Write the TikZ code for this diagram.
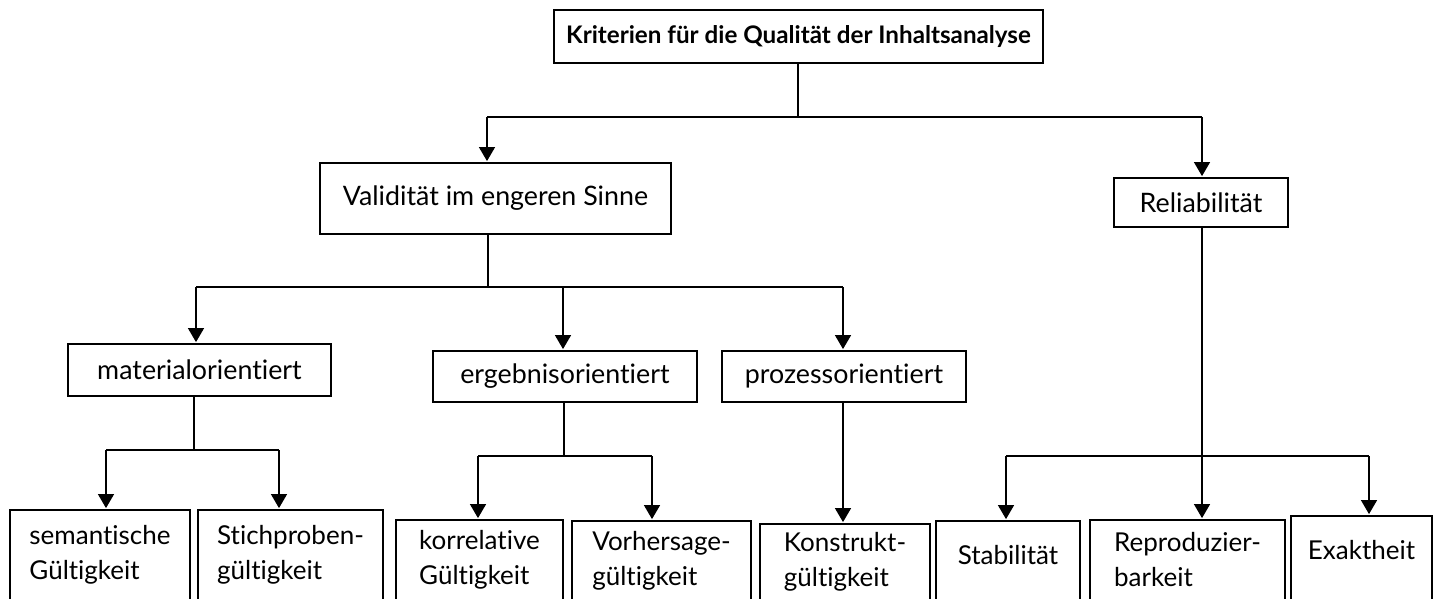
\documentclass[tikz,border=0pt]{standalone}
\usepackage{fontspec}
\setmainfont{Lato}[Ligatures={NoCommon}]
\usetikzlibrary{arrows.meta}
\begin{document}
\begin{tikzpicture}[x=1pt,y=-1pt,
  bx/.style={draw, line width=1.8pt, inner sep=0pt, align=center},
  mid/.style={font=\fontsize{26.8}{32}\selectfont},
  bxl/.style={draw, line width=1.8pt, inner sep=0pt, align=left,
     font=\fontsize{26}{35}\selectfont},
  ln/.style={line width=1.3pt},
  arr/.style={line width=1.3pt, -{Triangle[length=14pt,width=16pt]}, shorten >=1pt}]
\useasboundingbox (0,0) rectangle (1437,599);
\clip (0,0) rectangle (1437,599);
% boxes
\node[bx, minimum width=489, minimum height=53, font=\bfseries\fontsize{24.2}{29}\selectfont] (top) at (798.5,36.5) {Kriterien für die Qualität der Inhaltsanalyse};
\node[bx, mid, minimum width=351, minimum height=71] (valid) at (495.5,198.5) {Validität im engeren Sinne};
\node[bx, mid, minimum width=174, minimum height=49] (reli) at (1201,202.5) {Reliabilität};
\node[bx, mid, minimum width=263, minimum height=52] (mat) at (199.5,370) {materialorientiert};
\node[bx, mid, minimum width=264, minimum height=51] (erg) at (565,376.5) {ergebnisorientiert};
\node[bx, mid, minimum width=244, minimum height=51] (proz) at (844,376.5) {prozessorientiert};
\node[bxl, minimum width=180, minimum height=90] (sem) at (100,555) {semantische\\Gültigkeit};
\node[bxl, minimum width=185, minimum height=90] (stich) at (290.5,555) {Stichproben-\\gültigkeit};
\node[bxl, minimum width=167, minimum height=80] (korr) at (479.5,560) {korrelative\\Gültigkeit};
\node[bxl, minimum width=179, minimum height=79] (vorh) at (661.5,560.5) {Vorhersage-\\gültigkeit};
\node[bxl, minimum width=170, minimum height=76] (kons) at (845,562) {Konstrukt-\\gültigkeit};
\node[bxl, minimum width=144, minimum height=79, text depth=12pt] (stab) at (1008,560.5) {Stabilität};
\node[bxl, minimum width=195, minimum height=80] (repr) at (1187.5,560) {Reproduzier-\\barkeit};
\node[bxl, minimum width=141, minimum height=84, text depth=16pt] (exak) at (1361.5,558) {Exaktheit};
% junction coordinates
\coordinate (t0) at (798,117);
\coordinate (tL) at (487,117);
\coordinate (tR) at (1202,117);
\coordinate (v0) at (488,287);
\coordinate (vL) at (196,287);
\coordinate (vM) at (563,287);
\coordinate (vR) at (843,287);
\coordinate (m0) at (194,450);
\coordinate (mL) at (106,450);
\coordinate (mR) at (279,450);
\coordinate (e0) at (564,456);
\coordinate (eL) at (478,456);
\coordinate (eR) at (652,456);
\coordinate (r0) at (1202,456);
\coordinate (rL) at (1006,456);
\coordinate (rR) at (1369,456);
% connectors
\draw[ln] (t0 |- top.south) -- (t0);
\draw[ln] (tL) -- (tR);
\draw[arr] (tL) -- (tL |- valid.north);
\draw[arr] (tR) -- (tR |- reli.north);
\draw[ln] (v0 |- valid.south) -- (v0);
\draw[ln] (vL) -- (vR);
\draw[arr] (vL) -- (vL |- mat.north);
\draw[arr] (vM) -- (vM |- erg.north);
\draw[arr] (vR) -- (vR |- proz.north);
\draw[ln] (m0 |- mat.south) -- (m0);
\draw[ln] (mL) -- (mR);
\draw[arr] (mL) -- (mL |- sem.north);
\draw[arr] (mR) -- (mR |- stich.north);
\draw[ln] (e0 |- erg.south) -- (e0);
\draw[ln] (eL) -- (eR);
\draw[arr] (eL) -- (eL |- korr.north);
\draw[arr] (eR) -- (eR |- vorh.north);
\draw[arr] (vR |- proz.south) -- (vR |- kons.north);
\draw[ln] (r0 |- reli.south) -- (r0);
\draw[ln] (rL) -- (rR);
\draw[arr] (r0) -- (r0 |- repr.north);
\draw[arr] (rL) -- (rL |- stab.north);
\draw[arr] (rR) -- (rR |- exak.north);
\end{tikzpicture}
\end{document}
